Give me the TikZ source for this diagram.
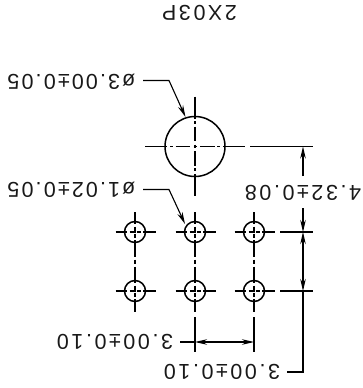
\documentclass[tikz,border=0pt]{standalone}
\usepackage{fontspec}
\setmainfont[LetterSpace=12]{Liberation Sans}
\newfontfamily\tighter[LetterSpace=10]{Liberation Sans}
\usetikzlibrary{arrows.meta}
\tikzset{
  dimtext/.style={inner sep=0pt,rotate=180,font=\fontsize{21.5}{21.5}\selectfont,text=black!90},
  holetext/.style={inner sep=0pt,rotate=180,font=\tighter\fontsize{21.5}{21.5}\selectfont,text=black!90},
  hole/.style={circle,draw,line width=1.5pt,inner sep=0pt,minimum size=#1},
  cl/.style={line width=1.1pt},
  dimline/.style={line width=1.1pt},
  tip/.style={-{Stealth[length=12pt,width=5.5pt]}},
  tips/.style={{Stealth[length=12pt,width=5.5pt]}-{Stealth[length=12pt,width=5.5pt]}}
}
\begin{document}
\begin{tikzpicture}[x=1pt,y=-1pt]
\useasboundingbox (0,0) rectangle (362,388);
% titles and dimension texts
\node[dimtext] (title) at (199.5,13) {2X03P};
\node[holetext] (d3) at (71.5,82) {ø3.00±0.05};
\node[holetext] (d1) at (71.5,190) {ø1.02±0.05};
\node[dimtext] (h) at (303,193) {4.32±0.08};
\node[dimtext] (wa) at (115,342) {3.00±0.10};
\node[dimtext] (wb) at (222,372) {3.00±0.10};
% holes
\node[hole=60pt] (big) at (195,146.5) {};
\foreach \n/\x/\y in {a/135/232,b/195/232,c/254/232,e/135/291,f/195/291,g/254/291}
  \node[hole=21pt] (\n) at (\x,\y) {};
% big centre lines
\foreach \s/\e in {145/167,170/173,175.5/190,193.5/196.5,200/214.5,217/220,223/245}
  \draw[cl] (\s,146.5) -- (\e,146.5);
\foreach \s/\e in {96.5/118.5,121/124,126.5/141,144.5/148,151/165.5,168/171,174/195.5}
  \draw[cl] (195,\s) -- (195,\e);
% small centre lines
\foreach \n/\x/\y in {a/135/232,b/195/232,c/254/232,e/135/291,f/195/291,g/254/291}{
  \foreach \s/\e in {-19.5/-8,-5.5/-1.5,-0.7/0.7,1.5/5.5,8/20.5}
    \draw[cl] (\x+\s,\y) -- (\x+\e,\y);
  \foreach \s/\e in {-20/-8,-5.5/-1.5,-0.7/0.7,1.5/5.5}
    \draw[cl] (\x,\y+\s) -- (\x,\y+\e);
}
\foreach \x in {135,195,254}{
  \draw[cl] (\x,240) -- (\x,257);
  \draw[cl] (\x,259.5) -- (\x,264);
  \draw[cl] (\x,266.5) -- (\x,283);
  \draw[cl] (\x,299) -- (\x,312);
}
\foreach \x in {195,254}
  \draw[cl] (\x,317) -- (\x,351.5);
% extension lines
\draw[dimline] (250,146.5) -- (312.5,146.5);
\draw[dimline] (280,232) -- (312.5,232);
\draw[dimline] (280,291) -- (312.5,291);
% vertical dimension
\coordinate (t1) at (303,146.5);
\coordinate (t2) at (303,232);
\coordinate (t3) at (303,291);
\draw[dimline,tip] (303,176) -- (t1);
\draw[dimline,tip] (303,208) -- (t2);
\draw[dimline,tips] (t2) -- (t3);
\draw[dimline] (t3) -- (303,372) -- (287,372);
% horizontal dimension
\coordinate (l1) at (195,342);
\coordinate (l2) at (254,342);
\draw[dimline,tips] (l1) -- (l2);
\draw[dimline] (195,342) -- (180,342);
% leaders
\draw[dimline,tip] (143,80.5) -- (169,80.5) -- (185.5,117);
\draw[dimline,tip] (143,189.5) -- (169,189.5) -- (185,224);
\end{tikzpicture}
\end{document}
